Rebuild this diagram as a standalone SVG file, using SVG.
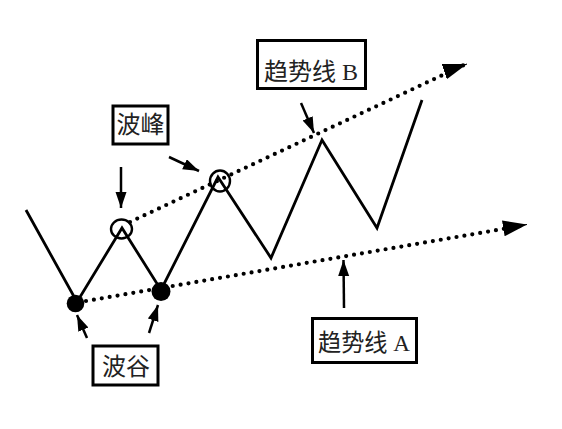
<svg xmlns="http://www.w3.org/2000/svg" width="562" height="429" viewBox="0 0 562 429">
<style>
.bg{fill:#fff}
.wave{fill:none;stroke:#000;stroke-width:2.8;stroke-linejoin:miter}
.trend{fill:none;stroke:#000;stroke-width:4.2;stroke-linecap:round;stroke-dasharray:0 8}
.call{fill:none;stroke:#000;stroke-width:2.5}
.box{fill:#fff;stroke:#000;stroke-width:3}
.lbl{font-family:"Liberation Serif","Noto Sans CJK SC",serif;font-size:24px;fill:#222;text-anchor:middle}
.peak{fill:none;stroke:#000;stroke-width:2.4}
.valley{fill:#000}
</style>
<defs>
<marker id="bigHead" markerUnits="userSpaceOnUse" markerWidth="26" markerHeight="18" refX="24" refY="8" orient="auto">
<path d="M0,0 L24,8 L0,16 Z" fill="#000"/>
</marker>
<marker id="smallHead" markerUnits="userSpaceOnUse" markerWidth="18" markerHeight="12" refX="16" refY="5.5" orient="auto">
<path d="M0,0 L16,5.5 L0,11 Z" fill="#000"/>
</marker>
</defs>
<rect class="bg" x="0" y="0" width="562" height="429"/>
<g id="wave">
<polyline class="wave" points="26,210 77,302 122,228 161,290 218,177 271,258 322,140 377,228 422,100"/>
</g>
<g id="connectors">
<line class="trend" x1="130" y1="222" x2="464" y2="65"/>
<line class="trend" x1="86" y1="301" x2="526" y2="225"/>
<path d="M464,65 L467,64" stroke="#000" stroke-width="1" marker-end="url(#bigHead)"/>
<path d="M524,225 L527,224.5" stroke="#000" stroke-width="1" marker-end="url(#bigHead)"/>
<line class="call" x1="121" y1="167" x2="121" y2="208" marker-end="url(#smallHead)"/>
<line class="call" x1="169" y1="157" x2="199" y2="171" marker-end="url(#smallHead)"/>
<line class="call" x1="301" y1="103" x2="314" y2="133" marker-end="url(#smallHead)"/>
<line class="call" x1="344" y1="308" x2="343.5" y2="260" marker-end="url(#smallHead)"/>
<line class="call" x1="87" y1="338" x2="77" y2="315" marker-end="url(#smallHead)"/>
<line class="call" x1="149" y1="333" x2="158" y2="305" marker-end="url(#smallHead)"/>
</g>
<g id="peak1"><ellipse class="peak" cx="121.5" cy="229" rx="10.5" ry="9.5"/></g>
<g id="peak2"><ellipse class="peak" cx="220" cy="181" rx="10" ry="10.5"/></g>
<g id="valley1"><circle class="valley" cx="75.5" cy="303.5" r="8.8"/></g>
<g id="valley2"><circle class="valley" cx="161" cy="291.5" r="9.5"/></g>
<g id="label-peak">
<rect class="box" x="113" y="106" width="55" height="38"/>
<text class="lbl" x="140.5" y="133">波峰</text>
</g>
<g id="label-trendB">
<rect class="box" x="257.5" y="40.5" width="108" height="48"/>
<text class="lbl" x="311" y="80" font-size="25" textLength="94" lengthAdjust="spacingAndGlyphs">趋势线 B</text>
</g>
<g id="label-valley">
<rect class="box" x="93" y="346" width="65" height="39"/>
<text class="lbl" x="126" y="375">波谷</text>
</g>
<g id="label-trendA">
<rect class="box" x="312.5" y="318.5" width="104" height="44"/>
<text class="lbl" x="364" y="351" font-size="25" textLength="92" lengthAdjust="spacingAndGlyphs">趋势线 A</text>
</g>
</svg>
